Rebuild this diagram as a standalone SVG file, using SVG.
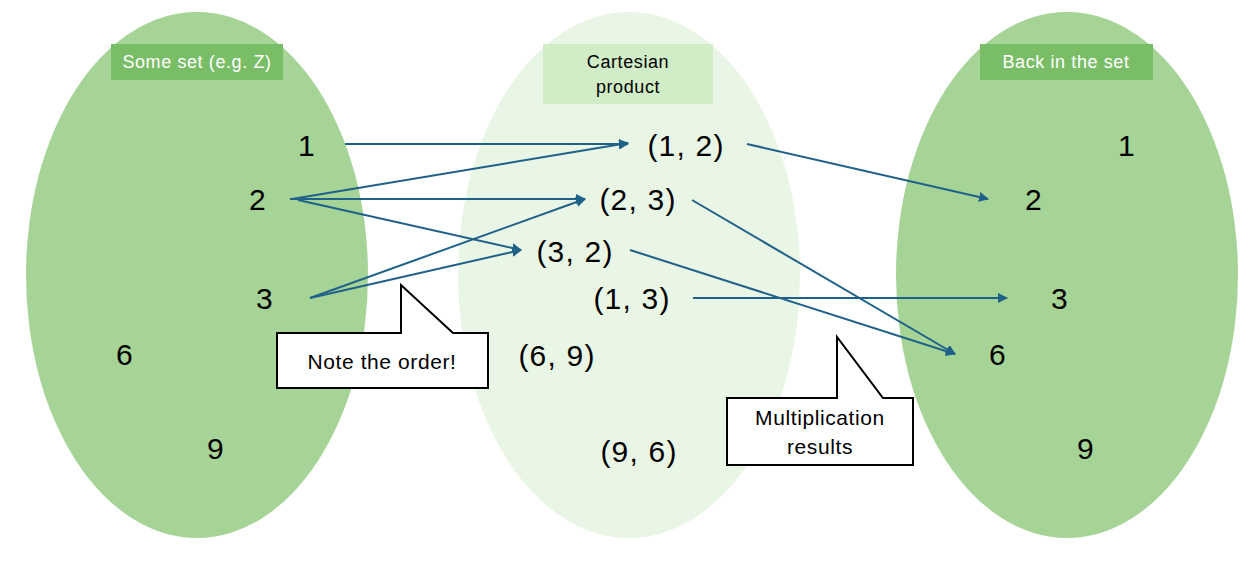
<svg xmlns="http://www.w3.org/2000/svg" width="1252" height="563" viewBox="0 0 1252 563">
<style>
.num{font-family:"Liberation Sans",Arial,sans-serif;font-size:30px;letter-spacing:1.2px;fill:#000;text-anchor:middle;dominant-baseline:central}
.lbl{font-family:"Liberation Sans",Arial,sans-serif;font-size:18px;letter-spacing:0.6px;text-anchor:middle;dominant-baseline:central}
.call{font-family:"Liberation Sans",Arial,sans-serif;font-size:21px;letter-spacing:0.6px;fill:#000;text-anchor:middle;dominant-baseline:central}
.conn line{stroke:#1F6189;stroke-width:2;fill:none;marker-end:url(#ah)}
.co{fill:#fff;stroke:#000;stroke-width:2}
</style>
<defs>
<marker id="ah" viewBox="0 0 10 10" refX="9" refY="5" markerWidth="5" markerHeight="5" orient="auto" markerUnits="strokeWidth">
<path d="M0,0 L10,5 L0,10 z" fill="#1F6189"/>
</marker>
</defs>
<rect width="1252" height="563" fill="#fff"/>
<g id="set-left">
<ellipse cx="197" cy="275" rx="171" ry="263" fill="#A6D396"/>
<rect x="111" y="44" width="172" height="36" fill="#7ABD67"/>
<text class="lbl" x="197" y="62" fill="#fff">Some set (e.g. Z)</text>
<text class="num" x="307" y="145">1</text>
<text class="num" x="258" y="199">2</text>
<text class="num" x="265" y="298">3</text>
<text class="num" x="125" y="354">6</text>
<text class="num" x="216" y="448">9</text>
</g>
<g id="set-middle">
<ellipse cx="629" cy="275" rx="171" ry="263" fill="#E9F5E5"/>
<rect x="543" y="44" width="170" height="60" fill="#D0EDC7"/>
<text class="lbl" x="628" y="62" fill="#000">Cartesian</text>
<text class="lbl" x="628" y="87" fill="#000">product</text>
<text class="num" x="686" y="145">(1, 2)</text>
<text class="num" x="638" y="199">(2, 3)</text>
<text class="num" x="575" y="251">(3, 2)</text>
<text class="num" x="632" y="298">(1, 3)</text>
<text class="num" x="557" y="355">(6, 9)</text>
<text class="num" x="639" y="451">(9, 6)</text>
</g>
<g id="set-right">
<ellipse cx="1067" cy="275" rx="171" ry="263" fill="#A6D396"/>
<rect x="980" y="44" width="173" height="36" fill="#7ABD67"/>
<text class="lbl" x="1066" y="62" fill="#fff">Back in the set</text>
<text class="num" x="1127" y="145">1</text>
<text class="num" x="1034" y="199">2</text>
<text class="num" x="1060" y="298">3</text>
<text class="num" x="998" y="354">6</text>
<text class="num" x="1086" y="448">9</text>
</g>
<g id="connectors" class="conn">
<line x1="345" y1="144" x2="628" y2="144"/>
<line x1="292" y1="199" x2="628" y2="143"/>
<line x1="290" y1="199" x2="585" y2="199"/>
<line x1="298" y1="200" x2="521" y2="250"/>
<line x1="310" y1="298" x2="585" y2="199"/>
<line x1="310" y1="298" x2="521" y2="250"/>
<line x1="747" y1="144" x2="988" y2="199"/>
<line x1="692" y1="200" x2="955" y2="354"/>
<line x1="630" y1="250" x2="955" y2="354"/>
<line x1="693" y1="298" x2="1007" y2="298"/>
</g>
<g id="callout-order">
<polygon class="co" points="277,333 401,333 401,285 453,333 488,333 488,388 277,388"/>
<text class="call" x="382" y="361">Note the order!</text>
</g>
<g id="callout-mult">
<polygon class="co" points="727,398 837,398 837,337 883,398 913,398 913,465 727,465"/>
<text class="call" x="820" y="417">Multiplication</text>
<text class="call" x="820" y="446">results</text>
</g>
</svg>
